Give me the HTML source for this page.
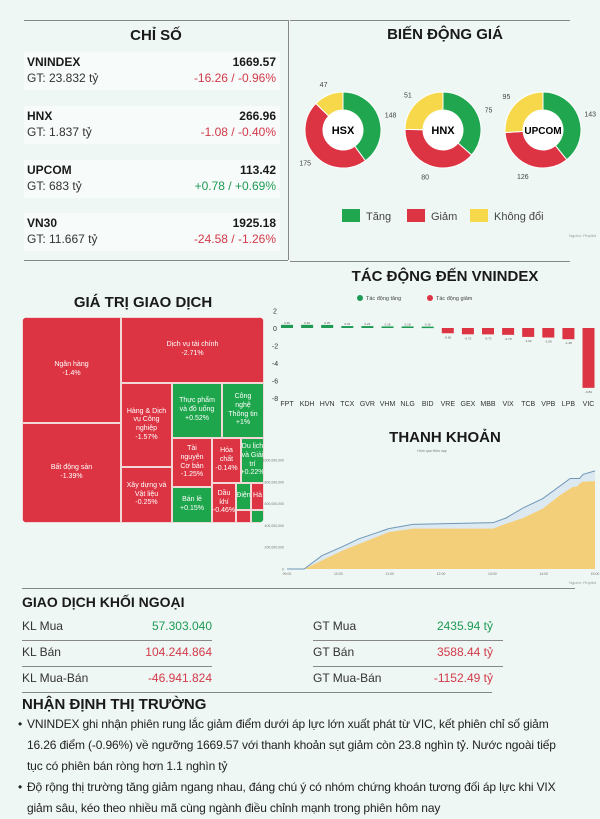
<!DOCTYPE html>
<html><head><meta charset="utf-8">
<style>
*{margin:0;padding:0;box-sizing:border-box}
body{width:600px;height:800px;overflow:hidden;background:#eef7f3;font-family:"Liberation Sans",sans-serif;color:#1a1a1a;position:relative}
.a{position:absolute}
.card{position:absolute;left:24px;width:256px;height:38px;background:#f7fbf9}
.card .n{position:absolute;left:3px;top:3px;font-weight:bold;font-size:12px}
.card .g{position:absolute;left:3px;top:19px;font-size:12px;color:#333}
.card .v{position:absolute;right:4px;top:3px;font-weight:bold;font-size:12px}
.card .c{position:absolute;right:4px;top:19px;font-size:12px}
.red{color:#d23a4a}.grn{color:#1e9a55}
.h{font-weight:bold;font-size:15px;text-align:center}
.tm{position:absolute;border:1px solid #f3d7d7;color:#fff;font-size:7px;text-align:center;display:flex;align-items:center;justify-content:center;line-height:1.25;overflow:hidden}
.R{background:#dc3442}.G{background:#1ea64c}
.fr{position:absolute;font-size:12px}
.sep{position:absolute;height:1px;background:#888}
</style></head><body>
<div class="a" style="left:24px;top:20px;width:264px;height:1px;background:#888"></div>
<div class="a" style="left:290px;top:20px;width:280px;height:1px;background:#888"></div>
<div class="a" style="left:288px;top:20px;width:1px;height:240px;background:#888"></div>
<div class="a" style="left:24px;top:260px;width:264px;height:1px;background:#888"></div>
<div class="a" style="left:290px;top:261px;width:280px;height:1px;background:#888"></div>

<div class="a h" style="left:24px;top:27px;width:264px">CHỈ SỐ</div>
<div class="card" style="top:52px"><div class="n">VNINDEX</div><div class="g">GT: 23.832 tỷ</div><div class="v">1669.57</div><div class="c red">-16.26 / -0.96%</div></div>
<div class="card" style="top:106px"><div class="n">HNX</div><div class="g">GT: 1.837 tỷ</div><div class="v">266.96</div><div class="c red">-1.08 / -0.40%</div></div>
<div class="card" style="top:160px"><div class="n">UPCOM</div><div class="g">GT: 683 tỷ</div><div class="v">113.42</div><div class="c grn">+0.78 / +0.69%</div></div>
<div class="card" style="top:213px"><div class="n">VN30</div><div class="g">GT: 11.667 tỷ</div><div class="v">1925.18</div><div class="c red">-24.58 / -1.26%</div></div>

<div class="a h" style="left:290px;top:26px;width:310px">BIẾN ĐỘNG GIÁ</div>
<svg class="a" style="left:290px;top:70px" width="310" height="190" id="donuts"></svg>

<div class="a h" style="left:290px;top:268px;width:310px">TÁC ĐỘNG ĐẾN VNINDEX</div>
<svg class="a" style="left:265px;top:288px" width="335" height="125" id="impact"></svg>

<div class="a h" style="left:22px;top:294px;width:242px">GIÁ TRỊ GIAO DỊCH</div>
<div class="a" style="left:22px;top:317px;width:242px;height:206px;border-radius:6px;overflow:hidden">
<div class="tm R" style="left:0;top:0;width:99px;height:106px">Ngân hàng<br>-1.4%</div>
<div class="tm R" style="left:0;top:106px;width:99px;height:100px">Bất động sản<br>-1.39%</div>
<div class="tm R" style="left:99px;top:0;width:143px;height:66px">Dịch vụ tài chính<br>-2.71%</div>
<div class="tm R" style="left:99px;top:66px;width:51px;height:84px">Hàng &amp; Dịch<br>vụ Công<br>nghiệp<br>-1.57%</div>
<div class="tm R" style="left:99px;top:150px;width:51px;height:56px">Xây dựng và<br>Vật liệu<br>-0.25%</div>
<div class="tm G" style="left:150px;top:66px;width:50px;height:55px">Thực phẩm<br>và đồ uống<br>+0.52%</div>
<div class="tm G" style="left:200px;top:66px;width:42px;height:55px">Công<br>nghệ<br>Thông tin<br>+1%</div>
<div class="tm R" style="left:150px;top:121px;width:40px;height:49px">Tài<br>nguyên<br>Cơ bản<br>-1.25%</div>
<div class="tm R" style="left:190px;top:121px;width:29px;height:45px">Hóa<br>chất<br>-0.14%</div>
<div class="tm G" style="left:219px;top:121px;width:23px;height:45px">Du lịch<br>và Giải<br>trí<br>+0.22%</div>
<div class="tm G" style="left:150px;top:170px;width:40px;height:36px">Bán lẻ<br>+0.15%</div>
<div class="tm R" style="left:190px;top:166px;width:24px;height:40px">Dầu<br>khí<br>-0.46%</div>
<div class="tm G" style="left:214px;top:166px;width:15px;height:27px">Điện</div>
<div class="tm R" style="left:229px;top:166px;width:13px;height:27px">Hà</div>
<div class="tm R" style="left:214px;top:193px;width:15px;height:13px"></div>
<div class="tm G" style="left:229px;top:193px;width:13px;height:13px"></div>
</div>

<div class="a h" style="left:290px;top:429px;width:310px">THANH KHOẢN</div>
<svg class="a" style="left:262px;top:445px" width="338" height="142" id="liq"></svg>

<div class="sep" style="left:22px;top:588px;width:553px"></div>
<div class="a" style="left:22px;top:594px;font-weight:bold;font-size:14px">GIAO DỊCH KHỐI NGOẠI</div>
<div class="fr" style="left:22px;top:619px;color:#333">KL Mua</div>
<div class="fr grn" style="left:112px;width:100px;text-align:right;top:619px">57.303.040</div>
<div class="sep" style="left:22px;top:640px;width:190px"></div>
<div class="fr" style="left:22px;top:645px;color:#333">KL Bán</div>
<div class="fr red" style="left:112px;width:100px;text-align:right;top:645px">104.244.864</div>
<div class="sep" style="left:22px;top:666px;width:190px"></div>
<div class="fr" style="left:22px;top:671px;color:#333">KL Mua-Bán</div>
<div class="fr red" style="left:112px;width:100px;text-align:right;top:671px">-46.941.824</div>
<div class="fr" style="left:313px;top:619px;color:#333">GT Mua</div>
<div class="fr grn" style="left:393px;width:100px;text-align:right;top:619px">2435.94 tỷ</div>
<div class="sep" style="left:313px;top:640px;width:190px"></div>
<div class="fr" style="left:313px;top:645px;color:#333">GT Bán</div>
<div class="fr red" style="left:393px;width:100px;text-align:right;top:645px">3588.44 tỷ</div>
<div class="sep" style="left:313px;top:666px;width:190px"></div>
<div class="fr" style="left:313px;top:671px;color:#333">GT Mua-Bán</div>
<div class="fr red" style="left:393px;width:100px;text-align:right;top:671px">-1152.49 tỷ</div>
<div class="sep" style="left:22px;top:692px;width:470px"></div>

<div class="a" style="left:22px;top:696px;font-weight:bold;font-size:15px">NHẬN ĐỊNH THỊ TRƯỜNG</div>
<div class="a" style="left:27px;top:714px;width:572px;font-size:12px;letter-spacing:-0.15px;line-height:21px;color:#222">
<div style="position:relative"><span style="position:absolute;left:-9px">•</span>VNINDEX ghi nhận phiên rung lắc giảm điểm dưới áp lực lớn xuất phát từ VIC, kết phiên chỉ số giảm<br>16.26 điểm (-0.96%) về ngưỡng 1669.57 với thanh khoản sụt giảm còn 23.8 nghìn tỷ. Nước ngoài tiếp<br>tục có phiên bán ròng hơn 1.1 nghìn tỷ</div>
<div style="position:relative"><span style="position:absolute;left:-9px">•</span>Độ rộng thị trường tăng giảm ngang nhau, đáng chú ý có nhóm chứng khoán tương đối áp lực khi VIX<br>giảm sâu, kéo theo nhiều mã cùng ngành điều chỉnh mạnh trong phiên hôm nay</div>
</div>

<script>
const NS="http://www.w3.org/2000/svg";
function mk(p,t,a){const e=document.createElementNS(NS,t);for(const k in a)e.setAttribute(k,a[k]);p.appendChild(e);return e;}
// ---- donuts
const exchanges=["HSX","HNX","UPCOM"];
const upCounts=[148,75,143];
const downCounts=[175,80,126];
const flatCounts=[47,51,95];
const COL={up:"#1fa64e",down:"#dc3442",flat:"#f7d84a"};
const dn=document.getElementById("donuts");
exchanges.forEach((ex,i)=>{
  const cx=53+i*100,cy=60,R=38,r=20;
  const vals=[upCounts[i],downCounts[i],flatCounts[i]],cols=[COL.up,COL.down,COL.flat];
  const tot=vals.reduce((a,b)=>a+b,0);let a0=-Math.PI/2;
  vals.forEach((v,j)=>{
    const a1=a0+v/tot*2*Math.PI,lg=(a1-a0)>Math.PI?1:0;
    const p=`M${cx+R*Math.cos(a0)},${cy+R*Math.sin(a0)}A${R},${R} 0 ${lg} 1 ${cx+R*Math.cos(a1)},${cy+R*Math.sin(a1)}L${cx+r*Math.cos(a1)},${cy+r*Math.sin(a1)}A${r},${r} 0 ${lg} 0 ${cx+r*Math.cos(a0)},${cy+r*Math.sin(a0)}Z`;
    const s=mk(dn,"path",{d:p,fill:cols[j],stroke:"#fff","stroke-width":1});
    
    
    const am=(a0+a1)/2,lx=cx+(R+12)*Math.cos(am),ly=cy+(R+12)*Math.sin(am);
    const t=mk(dn,"text",{x:lx,y:ly+3,"font-size":7,"text-anchor":"middle",fill:"#444"});t.textContent=v;
    
    
    a0=a1;});
  mk(dn,"circle",{cx,cy,r,fill:"#fff"});
  const t=mk(dn,"text",{x:cx,y:cy+4,"font-size":ex.length>3?10:11,"font-weight":"bold","text-anchor":"middle"});t.textContent=ex;
  
  
});
[["Tăng",COL.up,52],["Giảm",COL.down,117],["Không đổi",COL.flat,180]].forEach(l=>{
  const g=mk(dn,"g",{});
  
  
  mk(g,"rect",{x:l[2],y:139,width:18,height:13,fill:l[1]});
  const t=mk(g,"text",{x:l[2]+24,y:150,"font-size":11,fill:"#444"});t.textContent=l[0];});
const src=mk(dn,"text",{x:306,y:167,"font-size":4,"text-anchor":"end",fill:"#999"});src.textContent="Nguồn: Finpilot";

// ---- impact chart
const tickers=["FPT","KDH","HVN","TCX","GVR","VHM","NLG","BID","VRE","GEX","MBB","VIX","TCB","VPB","LPB","VIC"];
const impacts=[0.36,0.36,0.35,0.22,0.22,0.18,0.18,0.16,-0.60,-0.72,-0.73,-0.78,-1.02,-1.09,-1.28,-6.84];
const impactTicks=[2,0,-2,-4,-6,-8];
const im=document.getElementById("impact");
const iy=v=>40-v*8.75, ix=i=>22+i*20.1;
impactTicks.forEach(v=>{const t=mk(im,"text",{x:10,y:iy(v)+3,"font-size":7,"text-anchor":"middle",fill:"#333"});t.textContent=v;
  
  });
[[95,"#1e9a55","Tác động tăng"],[165,"#dc3442","Tác động giảm"]].forEach(l=>{
  mk(im,"circle",{cx:l[0],cy:10,r:3,fill:l[1]});
  const t=mk(im,"text",{x:l[0]+6,y:12,"font-size":5.5,fill:"#444"});t.textContent=l[2];
  
  });
tickers.forEach((tk,i)=>{
  const v=impacts[i],y0=iy(0),y1=iy(v);
  const b=mk(im,"rect",{x:ix(i)-6,y:Math.min(y0,y1),width:12,height:Math.max(1.5,Math.abs(y1-y0)),fill:v>=0?"#1e9a55":"#dc3442"});
  
  
  const vl=mk(im,"text",{x:ix(i),y:v>=0?y1-1:y1+5,"font-size":3,"text-anchor":"middle",fill:"#555"});vl.textContent=v.toFixed(2);
  const t=mk(im,"text",{x:ix(i),y:118,"font-size":7,"text-anchor":"middle",fill:"#333"});t.textContent=tk;
  
  });

// ---- liquidity chart (minutes after 09:00, value in millions)
const prevTimes=[20,41,65,84,119,147,241,256,276,299,331,342,346,360];
const prevValues=[0,123,206,277,370,409,425,468,560,646,830,830,868,900];
const todayTimes=[20,65,119,147,241,256,276,299,319,334,338,345,360];
const todayValues=[0,170,338,370,370,415,468,554,677,754,754,800,806];
const timeLabels=["09:00","10:00","11:00","12:00","13:00","14:00","15:00"];
const valTicks=[0,200,400,600,800,1000];
const lq=document.getElementById("liq");
const lx=m=>25+m/360*308, ly=v=>124-v*0.109;
valTicks.forEach(v=>{const t=mk(lq,"text",{x:22,y:ly(v)+1.5,"font-size":3.5,"text-anchor":"end",fill:"#777"});t.textContent=v===0?"0":v+",000,000";
  
  });
timeLabels.forEach((s,i)=>{const t=mk(lq,"text",{x:lx(i*60),y:130,"font-size":3.5,"text-anchor":"middle",fill:"#777"});t.textContent=s;
  
  });
const lg1=mk(lq,"text",{x:170,y:7,"font-size":3.5,"text-anchor":"middle",fill:"#777"});lg1.textContent="Hôm qua   Hôm nay";
let pp=`M${lx(0)},${ly(0)}`+prevTimes.map((t,i)=>`L${lx(t)},${ly(prevValues[i])}`).join("");
const pa=mk(lq,"path",{d:pp+`L${lx(360)},${ly(0)}Z`,fill:"#dce9f1"});


let tp=`M${lx(0)},${ly(0)}`+todayTimes.map((t,i)=>`L${lx(t)},${ly(todayValues[i])}`).join("");
const ta=mk(lq,"path",{d:tp+`L${lx(360)},${ly(0)}Z`,fill:"#f4cf7a"});


const pl=mk(lq,"path",{d:pp,fill:"none",stroke:"#6f97b8","stroke-width":1});


const s2=mk(lq,"text",{x:334,y:139,"font-size":4,"text-anchor":"end",fill:"#999"});s2.textContent="Nguồn: Finpilot";
</script>
</body></html>
